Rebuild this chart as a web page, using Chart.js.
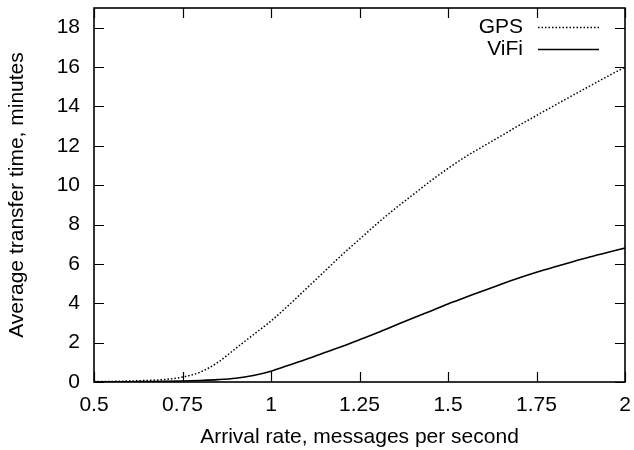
<!DOCTYPE html>
<html>
<head>
<meta charset="utf-8">
<script src="https://cdn.jsdelivr.net/npm/chart.js@4/dist/chart.umd.min.js"></script>
<style>
html,body{margin:0;padding:0;background:#fff;}
#wrap{width:634px;height:450px;position:relative;}
</style>
</head>
<body>
<div id="wrap"><canvas id="c" width="634" height="450"></canvas></div>
<script>
const rates = [0.5,0.55,0.6,0.65,0.7,0.75,0.8,0.85,0.9,0.95,1.0,1.05,1.1,1.15,1.2,1.25,1.3,1.35,1.4,1.45,1.5,1.55,1.6,1.65,1.7,1.75,1.8,1.85,1.9,1.95,2.0];
const gpsTimes = [0.02,0.03,0.05,0.08,0.13,0.25,0.5,1.0,1.7,2.4,3.1,3.9,4.75,5.6,6.45,7.25,8.05,8.8,9.5,10.2,10.85,11.45,11.98,12.5,13.03,13.54,14.04,14.54,15.03,15.52,16.0];
const vifiTimes = [0.0,0.005,0.01,0.02,0.03,0.05,0.08,0.12,0.19,0.33,0.55,0.85,1.15,1.48,1.8,2.15,2.5,2.87,3.24,3.6,3.96,4.3,4.64,4.97,5.28,5.57,5.84,6.1,6.35,6.58,6.8];
const xTicks = [0.5,0.75,1,1.25,1.5,1.75,2];
const yTicks = [0,2,4,6,8,10,12,14,16,18];
const seriesNames = ['GPS','ViFi'];

const FONT = 'Liberation Sans, Arial, Helvetica, sans-serif';
const FS = 21;

const frame = {
  id:'frame',
  afterDraw(chart){
    const {ctx, chartArea:a, scales:{x,y}} = chart;
    ctx.save();
    ctx.strokeStyle = '#000';
    ctx.lineWidth = 1.6;
    ctx.strokeRect(a.left, a.top, a.right-a.left, a.bottom-a.top);
    ctx.lineWidth = 1.2;
    const L = 10;
    ctx.beginPath();
    xTicks.forEach(v=>{
      const p = Math.round(x.getPixelForValue(v))+0.5;
      ctx.moveTo(p,a.bottom); ctx.lineTo(p,a.bottom-L);
      ctx.moveTo(p,a.top); ctx.lineTo(p,a.top+L);
    });
    yTicks.forEach(v=>{
      const p = Math.round(y.getPixelForValue(v))+0.5;
      ctx.moveTo(a.left,p); ctx.lineTo(a.left+L,p);
      ctx.moveTo(a.right,p); ctx.lineTo(a.right-L,p);
    });
    ctx.stroke();
    ctx.font = FS + 'px ' + FONT;
    ctx.fillStyle = '#000';
    ctx.textAlign = 'right';
    ctx.textBaseline = 'middle';
    const rows = [27, 49];
    chart.data.datasets.forEach((ds,i)=>{
      ctx.fillText(ds.label, 523, rows[i]);
      ctx.save();
      ctx.lineWidth = ds.borderWidth;
      ctx.setLineDash(ds.borderDash || []);
      ctx.beginPath();
      ctx.moveTo(538, rows[i]+0.5);
      ctx.lineTo(599, rows[i]+0.5);
      ctx.stroke();
      ctx.restore();
    });
    ctx.restore();
  }
};

new Chart(document.getElementById('c'), {
  type:'line',
  data:{
    datasets:[
      {label:seriesNames[0], data:rates.map((r,i)=>({x:r,y:gpsTimes[i]})), borderColor:'#000', borderWidth:1.5, borderDash:[1.5,2], pointRadius:0, cubicInterpolationMode:'monotone', fill:false},
      {label:seriesNames[1], data:rates.map((r,i)=>({x:r,y:vifiTimes[i]})), borderColor:'#000', borderWidth:1.6, pointRadius:0, cubicInterpolationMode:'monotone', fill:false}
    ]
  },
  options:{
    responsive:false,
    animation:false,
    layout:{padding:{left:0,right:9,top:8,bottom:0}},
    plugins:{legend:{display:false}, tooltip:{enabled:false}},
    scales:{
      x:{
        type:'linear', min:0.5, max:2,
        afterBuildTicks(s){ s.ticks = xTicks.map(v=>({value:v})); },
        afterFit(s){ s.height = 68; s.paddingLeft = 0; s.paddingRight = 0; },
        grid:{display:false, drawTicks:false},
        border:{display:false},
        ticks:{color:'#000', font:{family:FONT,size:FS}, padding:11, maxRotation:0, callback:v=>String(v)},
        title:{display:true, text:'Arrival rate, messages per second', color:'#000', font:{family:FONT,size:FS}, padding:{top:4,bottom:0}}
      },
      y:{
        type:'linear', min:0, max:19,
        afterBuildTicks(s){ s.ticks = yTicks.map(v=>({value:v})); },
        afterFit(s){ s.width = 94; s.paddingTop = 0; s.paddingBottom = 0; },
        grid:{display:false, drawTicks:false},
        border:{display:false},
        ticks:{color:'#000', font:{family:FONT,size:FS}, padding:14, callback:v=>String(v)},
        title:{display:true, text:'Average transfer time, minutes', color:'#000', font:{family:FONT,size:FS}, padding:{top:5,bottom:0}}
      }
    }
  },
  plugins:[frame]
});
</script>
</body>
</html>
